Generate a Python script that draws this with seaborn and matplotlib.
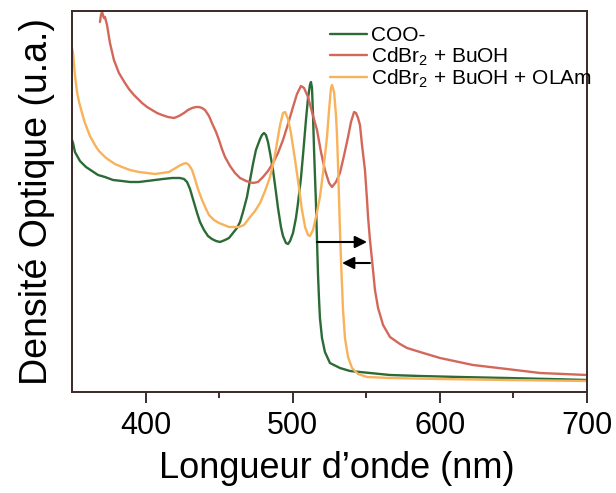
import numpy as np
import pandas as pd
import matplotlib
matplotlib.use("Agg")
import matplotlib.pyplot as plt
import seaborn as sns

# ---------------- data ----------------
labels = ["COO-", "CdBr$_2$ + BuOH", "CdBr$_2$ + BuOH + OLAm"]

wl_coo = [350.0, 350.7, 352.0, 355.4, 359.5, 363.6, 367.7, 372.4, 377.9, 384.0, 389.4,
          395.5, 401.0, 406.4, 411.8, 418.0, 423.4, 426.1, 428.2, 430.2, 431.6, 433.6,
          435.0, 437.0, 439.7, 442.4, 445.1, 447.9, 450.6, 454.0, 456.7, 459.4, 462.1,
          464.2, 466.2, 468.9, 471.0, 473.0, 475.0, 477.8, 479.1, 480.5, 481.8, 483.2,
          484.6, 486.6, 488.6, 490.0, 492.0, 493.4, 495.4, 496.8, 498.2, 500.2, 502.2,
          503.6, 505.6, 507.0, 509.0, 510.4, 511.7, 512.4, 513.1, 513.8, 514.5, 515.1,
          515.8, 516.5, 517.2, 517.9, 518.5, 519.9, 521.9, 525.3, 532.1, 538.9, 552.5,
          566.1, 586.5, 613.7, 645.6, 674.9, 700.0]
od_coo = [2.52, 2.49, 2.40, 2.31, 2.25, 2.21, 2.17, 2.15, 2.12, 2.11, 2.10,
          2.10, 2.11, 2.12, 2.13, 2.14, 2.14, 2.13, 2.10, 2.03, 1.96, 1.86,
          1.79, 1.70, 1.62, 1.56, 1.53, 1.51, 1.50, 1.52, 1.54, 1.59, 1.64,
          1.70, 1.80, 1.95, 2.12, 2.28, 2.42, 2.53, 2.57, 2.59, 2.57, 2.50,
          2.39, 2.22, 2.00, 1.84, 1.65, 1.56, 1.49, 1.48, 1.51, 1.59, 1.74,
          1.89, 2.14, 2.37, 2.72, 2.94, 3.07, 3.10, 3.04, 2.77, 2.42, 2.17,
          1.89, 1.52, 1.17, 0.92, 0.74, 0.54, 0.40, 0.29, 0.24, 0.21, 0.19,
          0.17, 0.16, 0.15, 0.14, 0.13, 0.12]

wl_buoh = [369.0, 369.7, 370.4, 371.7, 372.4, 373.8, 375.8, 378.5, 381.9, 386.0, 388.7,
           392.1, 397.6, 401.0, 404.4, 407.8, 411.2, 415.2, 419.3, 422.7, 426.1, 428.8,
           431.6, 434.3, 436.3, 438.4, 440.4, 443.1, 445.1, 447.9, 449.9, 451.9, 454.0,
           457.4, 460.8, 464.2, 468.3, 473.0, 476.4, 479.8, 483.2, 486.6, 490.0, 493.4,
           496.8, 500.2, 502.9, 505.6, 507.7, 510.4, 513.1, 516.5, 519.2, 521.9, 524.7,
           526.7, 529.4, 532.1, 534.8, 537.6, 539.6, 541.7, 543.0, 544.4, 545.7, 547.1,
           549.1, 550.5, 551.2, 552.5, 553.9, 555.9, 558.0, 561.4, 566.1, 572.9, 577.7,
           586.5, 600.1, 622.5, 645.6, 668.1, 700.0]
od_buoh = [3.70, 3.77, 3.80, 3.74, 3.75, 3.67, 3.49, 3.32, 3.19, 3.09, 3.03,
           2.97, 2.89, 2.85, 2.82, 2.79, 2.77, 2.75, 2.74, 2.76, 2.79, 2.82,
           2.84, 2.85, 2.85, 2.84, 2.82, 2.76, 2.69, 2.60, 2.52, 2.43, 2.35,
           2.26, 2.19, 2.14, 2.11, 2.09, 2.10, 2.15, 2.21, 2.29, 2.39, 2.52,
           2.68, 2.85, 2.98, 3.06, 3.04, 2.95, 2.80, 2.62, 2.40, 2.22, 2.09,
           2.05, 2.10, 2.19, 2.36, 2.55, 2.70, 2.80, 2.79, 2.74, 2.67, 2.47,
           2.22, 1.92, 1.75, 1.52, 1.32, 1.02, 0.84, 0.67, 0.55, 0.48, 0.44,
           0.40, 0.34, 0.27, 0.23, 0.19, 0.17]

wl_olam = [350.0, 350.7, 352.0, 353.4, 354.8, 356.8, 358.8, 362.2, 365.6, 368.3, 372.4,
           375.1, 379.2, 384.0, 389.4, 395.5, 401.0, 406.4, 411.2, 415.9, 419.3, 422.7,
           425.4, 427.5, 429.5, 431.6, 433.6, 435.6, 438.4, 441.1, 443.1, 446.5, 449.9,
           453.3, 456.7, 460.1, 463.5, 466.9, 471.0, 474.4, 477.8, 481.2, 484.6, 487.3,
           489.3, 491.4, 493.4, 494.8, 496.8, 498.8, 501.6, 504.3, 506.3, 508.4, 510.4,
           511.7, 513.8, 515.8, 518.5, 520.6, 523.3, 524.7, 526.0, 526.7, 528.1, 529.4,
           530.1, 530.8, 531.5, 532.1, 532.8, 533.5, 534.2, 535.5, 537.6, 540.3, 544.4,
           550.5, 566.1, 600.1, 645.6, 700.0]
od_olam = [3.44, 3.39, 3.17, 3.00, 2.90, 2.79, 2.69, 2.56, 2.47, 2.41, 2.35,
           2.32, 2.28, 2.25, 2.22, 2.20, 2.19, 2.18, 2.19, 2.20, 2.23, 2.26,
           2.28, 2.29, 2.27, 2.22, 2.13, 2.03, 1.92, 1.83, 1.77, 1.72, 1.69,
           1.67, 1.65, 1.65, 1.65, 1.67, 1.75, 1.81, 1.89, 2.01, 2.15, 2.32,
           2.49, 2.67, 2.79, 2.80, 2.73, 2.59, 2.32, 2.04, 1.82, 1.65, 1.57,
           1.56, 1.62, 1.75, 1.95, 2.19, 2.55, 2.82, 3.04, 3.07, 3.00, 2.77,
           2.57, 2.27, 1.92, 1.62, 1.32, 1.07, 0.82, 0.54, 0.35, 0.24, 0.18,
           0.15, 0.14, 0.13, 0.12, 0.11]

x_ticks = [400, 500, 600, 700]
x_minor = [450, 550, 650]

# arrows (start wavelength, end wavelength, height)
arrow_right = (516.5, 550.5, 1.50)
arrow_left = (552.5, 533.5, 1.29)

# ---------------- build table ----------------
df = pd.concat([
    pd.DataFrame({"wl": wl_coo, "od": od_coo, "sample": labels[0]}),
    pd.DataFrame({"wl": wl_buoh, "od": od_buoh, "sample": labels[1]}),
    pd.DataFrame({"wl": wl_olam, "od": od_olam, "sample": labels[2]}),
], ignore_index=True)

sns.set_style("white")
plt.rcParams["font.family"] = ["Liberation Sans", "DejaVu Sans"]
plt.rcParams["mathtext.fontset"] = "custom"
plt.rcParams["mathtext.rm"] = "Liberation Sans"
plt.rcParams["mathtext.it"] = "Liberation Sans:italic"
plt.rcParams["text.color"] = "black"
plt.rcParams["axes.labelcolor"] = "black"
plt.rcParams["xtick.color"] = "black"

palette = {labels[0]: "#2c6b35", labels[1]: "#d3685a", labels[2]: "#f8b25a"}

fig = plt.figure(figsize=(6.16, 4.93), dpi=100)
ax = fig.add_axes([72 / 616, 1 - 392 / 493, 515 / 616, 381 / 493])

sns.lineplot(data=df, x="wl", y="od", hue="sample", palette=palette,
             estimator=None, sort=False, linewidth=1.7, ax=ax, legend=True)

ax.set_xlim(350, 700)
ax.set_ylim(0, 3.81)
ax.set_yticks([])
ax.set_xticks(x_ticks)
ax.set_xticks(x_minor, minor=True)
ax.tick_params(axis="x", which="major", direction="out", length=8, width=1.3,
               color="#2b1d1b", labelcolor="black", labelsize=22, pad=6, bottom=True)
ax.tick_params(axis="x", which="minor", direction="out", length=4.5, width=1.3,
               color="#2b1d1b", bottom=True)

for s in ax.spines.values():
    s.set_visible(True)
    s.set_color("#3a2926")
    s.set_linewidth(1.4)

ax.set_xlabel("Longueur d’onde (nm)", fontsize=26, color="black")
ax.xaxis.set_label_coords(0.515, -0.155)
ax.xaxis.label.set_va("top")
ax.set_ylabel("Densité Optique (u.a.)", fontsize=27, labelpad=12, color="black")

# arrows
ax.annotate("", xy=(arrow_right[1], arrow_right[2]), xytext=(arrow_right[0], arrow_right[2]),
            arrowprops=dict(arrowstyle="-|>", color="black", lw=1.5, mutation_scale=18,
                            shrinkA=0, shrinkB=0))
ax.annotate("", xy=(arrow_left[1], arrow_left[2]), xytext=(arrow_left[0], arrow_left[2]),
            arrowprops=dict(arrowstyle="-|>", color="black", lw=1.5, mutation_scale=18,
                            shrinkA=0, shrinkB=0))

leg = ax.legend(loc="upper left", bbox_to_anchor=(0.5, 0.96), frameon=False,
                fontsize=15, handlelength=1.8, handletextpad=0.2,
                labelspacing=0.0, borderpad=0, borderaxespad=0)
for t in leg.get_texts():
    t.set_color("black")
for line in leg.get_lines():
    line.set_linewidth(1.7)

fig.savefig("out.png", dpi=100)
